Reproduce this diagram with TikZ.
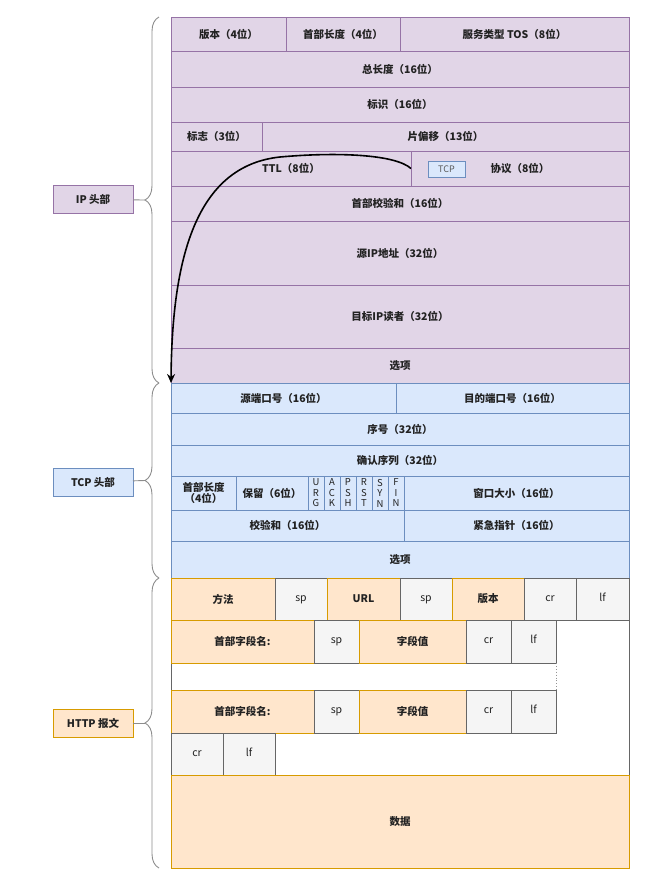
\documentclass[tikz,border=0pt]{standalone}
\usepackage{fontspec}
\setmainfont{Noto Sans CJK SC}
\usetikzlibrary{arrows.meta,positioning,decorations.pathreplacing}
\definecolor{Ink}{HTML}{222222}
\definecolor{IpFill}{HTML}{E1D5E7}
\definecolor{IpLine}{HTML}{9673A6}
\definecolor{TcpFill}{HTML}{DAE8FC}
\definecolor{TcpLine}{HTML}{6C8EBF}
\definecolor{HttpFill}{HTML}{FFE6CC}
\definecolor{HttpLine}{HTML}{D79B00}
\definecolor{SpFill}{HTML}{F5F5F5}
\definecolor{SpLine}{HTML}{666666}
\definecolor{Brace}{HTML}{8C8C8C}

\begin{document}
\begin{tikzpicture}[x=1pt,y=-1pt,
    fld/.style={draw,outer sep=0pt,inner sep=1pt,line width=0.9pt,text=Ink,
      font=\fontsize{10.5}{12}\selectfont\bfseries,align=center},
    cell/.style 2 args={minimum width=#1pt,minimum height=#2pt},
    ip/.style={fld,draw=IpLine,fill=IpFill},
    tcp/.style={fld,draw=TcpLine,fill=TcpFill},
    msg/.style={fld,draw=HttpLine,fill=HttpFill},
    spc/.style={fld,draw=SpLine,fill=SpFill,font=\fontsize{10.5}{12}\selectfont,
      text height=1.1ex,text depth=0.2ex},
    flag/.style={tcp,cell={16}{34},inner sep=0pt,
      font=\fontsize{9.5}{10.5}\selectfont},
    lbl/.style={fld,cell={80}{28},line width=1pt},
    brc/.style={draw=Brace,line width=0.9pt,decorate,
      decoration={brace,amplitude=14pt}},
    arr/.style={-{Stealth[length=9pt,width=8pt]},line width=1.6pt,black}
  ]
  \useasboundingbox (0,0) rectangle (648,876);
  % IP header
  \node[ip,cell={115}{34},anchor=north west] (ver) at (171,17) {版本（4位）};
  \node[ip,cell={114}{34},right=0pt of ver] (hlen) {首部长度（4位）};
  \node[ip,cell={229}{34},right=0pt of hlen] (tos) {服务类型 TOS（8位）};
  \node[ip,cell={458}{36},anchor=north west] (totlen) at (ver.south west) {总长度（16位）};
  \node[ip,cell={458}{35},anchor=north west] (ident) at (totlen.south west) {标识（16位）};
  \node[ip,cell={91}{29},anchor=north west] (ipflags) at (ident.south west) {标志（3位）};
  \node[ip,cell={367}{29},right=0pt of ipflags] (frag) {片偏移（13位）};
  \node[ip,cell={240}{35},anchor=north west] (ttl) at (ipflags.south west) {TTL（8位）};
  \node[ip,cell={218}{35},right=0pt of ttl] (proto) {协议（8位）};
  \node[tcp,cell={37}{16},inner sep=0pt,line width=0.8pt,text=Ink!75,
    font=\fontsize{9}{10}\selectfont] (tcptag) at (446.5,169) {TCP};
  \node[ip,cell={458}{35},anchor=north west] (ipcsum) at (ttl.south west) {首部校验和（16位）};
  \node[ip,cell={458}{64},anchor=north west] (srcip) at (ipcsum.south west) {源IP地址（32位）};
  \node[ip,cell={458}{63},anchor=north west] (dstip) at (srcip.south west) {目标IP读者（32位）};
  \node[ip,cell={458}{35},anchor=north west] (ipopt) at (dstip.south west) {选项};
  % TCP header
  \node[tcp,cell={225}{30},anchor=north west] (sport) at (ipopt.south west) {源端口号（16位）};
  \node[tcp,cell={233}{30},right=0pt of sport] (dport) {目的端口号（16位）};
  \node[tcp,cell={458}{32},anchor=north west] (seq) at (sport.south west) {序号（32位）};
  \node[tcp,cell={458}{31},anchor=north west] (ack) at (seq.south west) {确认序列（32位）};
  \node[tcp,cell={65}{34},anchor=north west,font=\fontsize{10.5}{11.5}\selectfont\bfseries]
    (doff) at (ack.south west) {首部长度\\（4位）};
  \node[tcp,cell={72}{34},right=0pt of doff] (rsv) {保留（6位）};
  \foreach \a/\b/\c [count=\i] in {U/R/G,A/C/K,P/S/H,R/S/T,S/Y/N,F/I/N}
    \node[flag,anchor=north west,xshift={(\i-1)*16pt}] (flag\i) at (rsv.north east) {\a\\\b\\\c};
  \node[tcp,cell={225}{34},right=0pt of flag6] (win) {窗口大小（16位）};
  \node[tcp,cell={233}{31},anchor=north west] (tcsum) at (doff.south west) {校验和（16位）};
  \node[tcp,cell={225}{31},right=0pt of tcsum] (urg) {紧急指针（16位）};
  \node[tcp,cell={458}{37},anchor=north west] (topt) at (tcsum.south west) {选项};
  % HTTP message
  \node[draw=SpLine,fill=white,line width=0.9pt,outer sep=0pt,cell={458}{290},
    anchor=north west] (frame) at (topt.south west) {};
  \node[msg,cell={104}{42},anchor=north west] (method) at (topt.south west) {方法};
  \node[spc,cell={52}{42},right=0pt of method] (sp1) {sp};
  \node[msg,cell={73}{42},right=0pt of sp1] (url) {URL};
  \node[spc,cell={52}{42},right=0pt of url] (sp2) {sp};
  \node[msg,cell={72}{42},right=0pt of sp2] (hver) {版本};
  \node[spc,cell={52}{42},right=0pt of hver] (cr1) {cr};
  \node[spc,cell={53}{42},right=0pt of cr1] (lf1) {lf};
  \node[msg,cell={143}{43},anchor=north west] (name1) at (method.south west) {首部字段名:};
  \node[spc,cell={45}{43},right=0pt of name1] (sp3) {sp};
  \node[msg,cell={107}{43},right=0pt of sp3] (val1) {字段值};
  \node[spc,cell={45}{43},right=0pt of val1] (cr2) {cr};
  \node[spc,cell={45}{43},right=0pt of cr2] (lf2) {lf};
  \node[msg,cell={143}{43},below=27pt of name1] (name2) {首部字段名:};
  \node[spc,cell={45}{43},right=0pt of name2] (sp4) {sp};
  \node[msg,cell={107}{43},right=0pt of sp4] (val2) {字段值};
  \node[spc,cell={45}{43},right=0pt of val2] (cr3) {cr};
  \node[spc,cell={45}{43},right=0pt of cr3] (lf3) {lf};
  \draw[SpLine!70,dotted,line width=0.9pt] (lf2.south east) -- (lf3.north east);
  \node[spc,cell={52}{42},anchor=north west] (cr4) at (name2.south west) {cr};
  \node[spc,cell={52}{42},right=0pt of cr4] (lf4) {lf};
  \node[msg,cell={458}{93},anchor=north west] (data) at (cr4.south west) {数据};
  % labels and braces
  \node[lbl,draw=IpLine,fill=IpFill] (iplbl) at (93,199.5) {IP 头部};
  \node[lbl,draw=TcpLine,fill=TcpFill] (tcplbl) at (93,482) {TCP 头部};
  \node[lbl,draw=HttpLine,fill=HttpFill] (httplbl) at (93,723) {HTTP 报文};
  \draw[brc] ([xshift=-12pt]ipopt.south west) -- ([xshift=-12pt]ver.north west);
  \draw[brc] ([xshift=-12pt]topt.south west) -- ([xshift=-12pt]sport.north west);
  \draw[brc] ([xshift=-12pt]data.south west) -- ([xshift=-12pt]method.north west);
  \coordinate (iptip) at (145,200);
  \coordinate (tcptip) at (145,480.5);
  \coordinate (httptip) at (145,723);
  \draw[Brace,line width=0.9pt] (iplbl) -- (iptip);
  \draw[Brace,line width=0.9pt] (tcplbl) -- (tcptip);
  \draw[Brace,line width=0.9pt] (httplbl) -- (httptip);
  % protocol -> TCP header
  \draw[arr] (proto.west) .. controls (395,154) and (335,152) .. (280,157)
    .. controls (195,166) and (172,260) .. (sport.north west);
\end{tikzpicture}
\end{document}
